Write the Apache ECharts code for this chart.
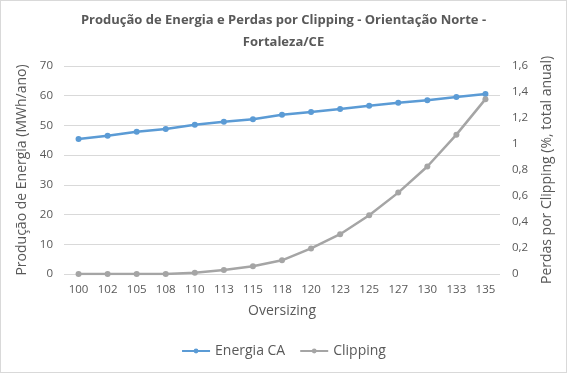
<!DOCTYPE html>
<html><head><meta charset="utf-8">
<script src="https://cdn.jsdelivr.net/npm/echarts@6/dist/echarts.min.js"></script>
<style>html,body{margin:0;padding:0;background:#fff}#c{width:565px;height:371px;border:1px solid #d9d9d9}</style>
</head><body><div id="c"></div>
<script>
var categories = ['100','102','105','108','110','113','115','118','120','123','125','127','130','133','135'];
var energiaCA = [45.4, 46.5, 47.9, 48.8, 50.2, 51.2, 52.1, 53.6, 54.5, 55.5, 56.6, 57.6, 58.5, 59.6, 60.6];
var clipping = [0, 0, 0, 0, 0.01, 0.03, 0.06, 0.105, 0.197, 0.306, 0.452, 0.626, 0.827, 1.072, 1.345];
var FONT = 'Open Sans';
var TXT = '#595959';
var chart = echarts.init(document.getElementById('c'));
chart.setOption({
  animation: false,
  title: {
    text: 'Produção de Energia e Perdas por Clipping - Orientação Norte -\nFortaleza/CE',
    left: 'center', top: 3,
    textStyle: {fontFamily: FONT, fontSize: 13, fontWeight: 'bold', color: TXT, lineHeight: 22}
  },
  legend: {
    bottom: 9, left: 'center', itemWidth: 28, itemHeight: 6, itemGap: 14,
    textStyle: {fontFamily: FONT, fontSize: 14, color: TXT},
    data: ['Energia CA', 'Clipping']
  },
  grid: {left: 63, right: 66, top: 65, bottom: 98},
  xAxis: {
    type: 'category', data: categories, boundaryGap: true,
    name: 'Oversizing', nameLocation: 'middle', nameGap: 30,
    nameTextStyle: {fontFamily: FONT, fontSize: 14, color: TXT},
    axisLine: {show: false}, axisTick: {show: false},
    axisLabel: {fontFamily: FONT, fontSize: 11.5, color: TXT, margin: 10, interval: 0}
  },
  yAxis: [{
    type: 'value', min: 0, max: 70, interval: 10,
    name: 'Produção de Energia (MWh/ano)', nameLocation: 'middle', nameGap: 33,
    nameTextStyle: {fontFamily: FONT, fontSize: 14, color: TXT},
    axisLine: {show: false}, axisTick: {show: false},
    axisLabel: {fontFamily: FONT, fontSize: 11.5, color: TXT, margin: 11},
    splitLine: {lineStyle: {color: '#d9d9d9'}}
  }, {
    type: 'value', min: 0, max: 1.6, interval: 0.2, position: 'right',
    name: 'Perdas por Clipping (%, total anual)', nameLocation: 'middle', nameGap: 40,
    nameRotate: 90,
    nameTextStyle: {fontFamily: FONT, fontSize: 14, color: TXT},
    axisLine: {show: false}, axisTick: {show: false},
    axisLabel: {fontFamily: FONT, fontSize: 11.5, color: TXT, margin: 12,
      formatter: function (v) { return String(Math.round(v * 10) / 10).replace('.', ','); }},
    splitLine: {show: false}
  }],
  series: [{
    name: 'Energia CA', type: 'line', data: energiaCA, yAxisIndex: 0,
    symbol: 'circle', symbolSize: 6,
    lineStyle: {color: '#5b9bd5', width: 2.5}, itemStyle: {color: '#5b9bd5'}
  }, {
    name: 'Clipping', type: 'line', data: clipping, yAxisIndex: 1,
    symbol: 'circle', symbolSize: 6,
    lineStyle: {color: '#a5a5a5', width: 2.5}, itemStyle: {color: '#a5a5a5'}
  }]
});
</script></body></html>
